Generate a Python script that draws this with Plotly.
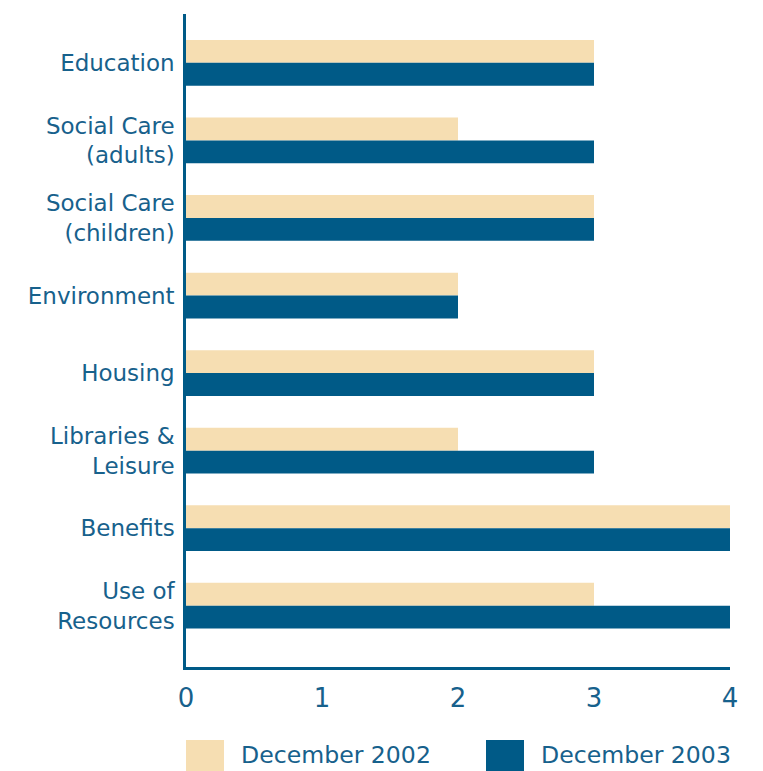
import plotly.graph_objects as go

# Service areas, listed top to bottom
categories = [
    "Education",
    "Social Care<br>(adults)",
    "Social Care<br>(children)",
    "Environment",
    "Housing",
    "Libraries &<br>Leisure",
    "Benefits",
    "Use of<br>Resources",
]

series_names = ["December 2002", "December 2003"]
scores_2002 = [3, 2, 3, 2, 3, 2, 4, 3]
scores_2003 = [3, 3, 3, 2, 3, 3, 4, 4]
x_ticks = [0, 1, 2, 3, 4]

TAN = "#f6deb2"
NAVY = "#005a87"
TEXT = "#17618c"
FONT = "DejaVu Sans, Verdana, sans-serif"

fig = go.Figure()
for name, vals, color in [(series_names[0], scores_2002, TAN),
                          (series_names[1], scores_2003, NAVY)]:
    fig.add_trace(go.Bar(
        y=categories, x=vals, name=name, orientation="h",
        marker=dict(color=color, line=dict(width=0)),
        showlegend=False,
    ))

fig.update_layout(
    width=763, height=771,
    margin=dict(l=186, r=33, t=14, b=104),
    paper_bgcolor="white", plot_bgcolor="white",
    barmode="group", bargap=0.41, bargroupgap=0,
    font=dict(family=FONT, color=TEXT, size=23),
)

fig.update_xaxes(
    range=[0, 4], tickvals=x_ticks, showgrid=False, zeroline=False,
    showline=True, linecolor=NAVY, linewidth=2.5,
    ticks="", tickfont=dict(size=26, color=TEXT), ticklabelstandoff=6,
)
fig.update_yaxes(
    type="category", categoryorder="array", categoryarray=categories,
    range=[7.79, -0.63], showgrid=False, zeroline=False,
    showline=True, linecolor=NAVY, linewidth=2.5,
    ticks="", tickfont=dict(size=23, color=TEXT), ticklabelstandoff=4,
)

# Legend drawn as large swatches with labels beneath the axis
legend_items = [(series_names[0], TAN, 186, 224), (series_names[1], NAVY, 486, 524)]
for name, color, x0, x1 in legend_items:
    fig.add_shape(type="rect", xref="paper", yref="paper",
                  x0=(x0 - 186) / 544, x1=(x1 - 186) / 544,
                  y0=(667 - 771) / 653, y1=(667 - 740) / 653,
                  fillcolor=color, line=dict(width=0), layer="above")
    fig.add_annotation(text=name, xref="paper", yref="paper",
                       x=(x1 + 15 - 186) / 544, y=(667 - 755) / 653,
                       xanchor="left", yanchor="middle", showarrow=False,
                       font=dict(size=23.6, color=TEXT, family=FONT))

fig.write_html("out.html")
